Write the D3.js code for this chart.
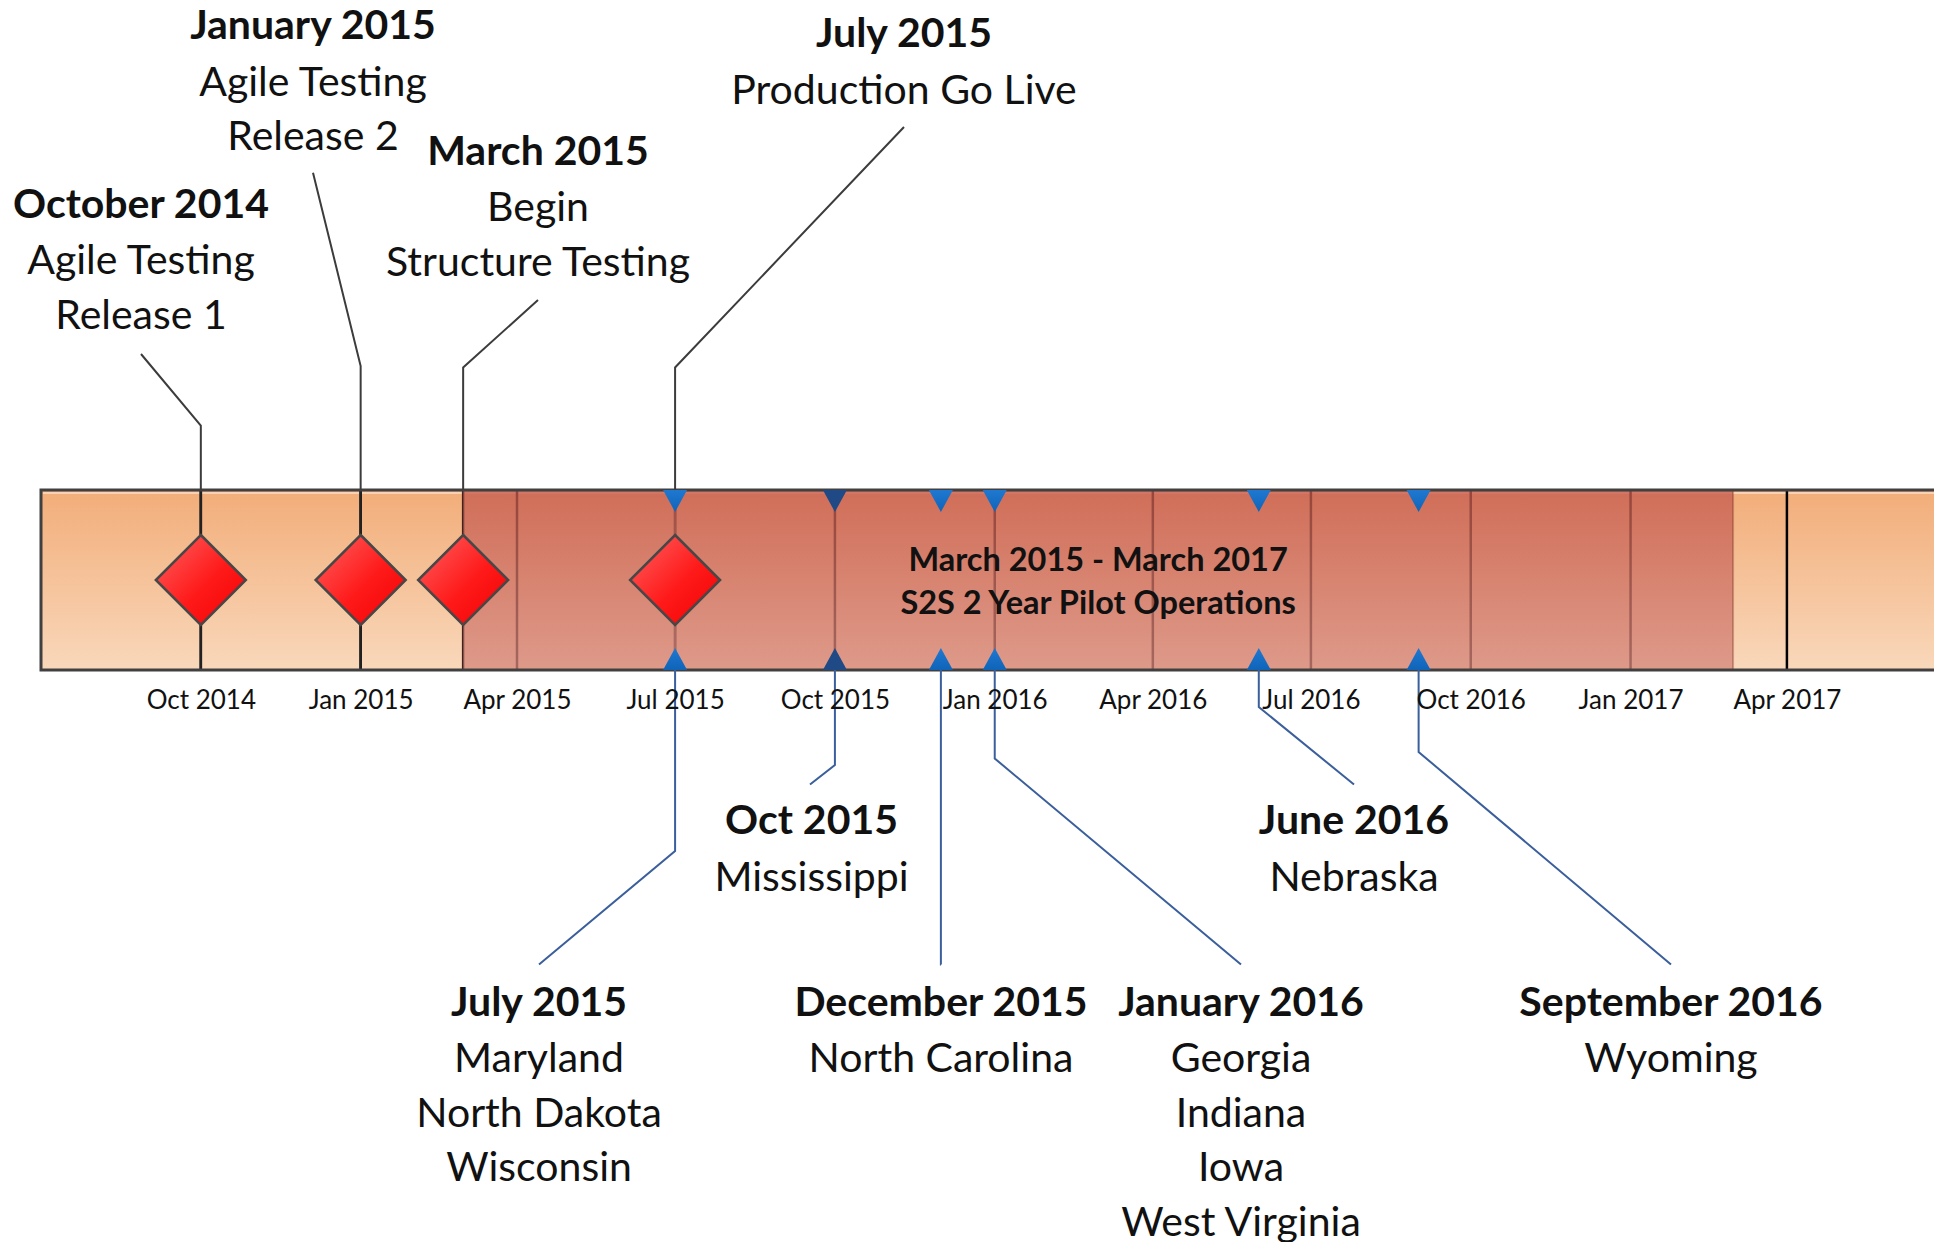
<!DOCTYPE html>
<html>
<head>
<meta charset="utf-8">
<script src="https://cdn.jsdelivr.net/npm/d3@7/dist/d3.min.js"></script>
<style>
  html, body { margin: 0; padding: 0; background: #ffffff; }
  svg { display: block; }
  text { font-family: Lato, "Open Sans", sans-serif; fill: #111; }
</style>
</head>
<body>
<svg id="chart" width="1934" height="1242"></svg>
<script>
// ---------------- DATA ----------------
const barRange = ["2014-07-01", "2017-07-01"];
const tickDates = ["2014-10-01", "2015-01-01", "2015-04-01", "2015-07-01", "2015-10-01", "2016-01-01",
                   "2016-04-01", "2016-07-01", "2016-10-01", "2017-01-01", "2017-04-01"];
const pilotPeriod = ["2015-03-01", "2017-03-01"];
const pilotLabel = ["March 2015 - March 2017", "S2S 2 Year Pilot Operations"];

const milestoneDates = ["2014-10-01", "2015-01-01", "2015-03-01", "2015-07-01"];
const milestoneTitles = ["October 2014", "January 2015", "March 2015", "July 2015"];
const milestoneLines = [["Agile Testing", "Release 1"], ["Agile Testing", "Release 2"],
                        ["Begin", "Structure Testing"], ["Production Go Live"]];

const stateDates = ["2015-07-01", "2015-10-01", "2015-12-01", "2016-01-01", "2016-06-01", "2016-09-01"];
const stateTitles = ["July 2015", "Oct 2015", "December 2015", "January 2016", "June 2016", "September 2016"];
const stateLines = [["Maryland", "North Dakota", "Wisconsin"], ["Mississippi"], ["North Carolina"],
                    ["Georgia", "Indiana", "Iowa", "West Virginia"], ["Nebraska"], ["Wyoming"]];

// ---------------- LAYOUT (pixels) ----------------
const milestoneLayout = [
  { cx: 141, titleY: 203.5, leadX: 141, leadY: 354, elbowY: 425.5 },
  { cx: 313, titleY: 24.7, leadX: 313, leadY: 172.7, elbowY: 366 },
  { cx: 538, titleY: 150.5, leadX: 538, leadY: 300, elbowY: 367.5 },
  { cx: 904, titleY: 33, leadX: 904, leadY: 127, elbowY: 367.5 }
];
const stateLayout = [
  { cx: 539, titleY: 1001.5, elbowY: 851, endX: 539, endY: 964.5, dark: false },
  { cx: 811.5, titleY: 820, elbowY: 765, endX: 810, endY: 784.5, dark: true },
  { cx: 941, titleY: 1001.5, elbowY: 964.5, endX: 941, endY: 964.5, dark: false },
  { cx: 1241, titleY: 1001.5, elbowY: 758.5, endX: 1241, endY: 964.5, dark: false },
  { cx: 1354, titleY: 820, elbowY: 707, endX: 1354, endY: 784.5, dark: false },
  { cx: 1671, titleY: 1001.5, elbowY: 752, endX: 1671, endY: 964.5, dark: false }
];
const barTop = 490, barBottom = 670, barMid = 580;
const annFont = 41, tickFont = 26, barFont = 32.5;
const firstGap = 56.5, lineGap = 54.5;

// ---------------- DRAW ----------------
const parse = d3.timeParse("%Y-%m-%d");
const svg = d3.select("#chart");
const x = d3.scaleTime().domain(barRange.map(parse)).range([41, 1945]);

const defs = svg.append("defs");
const g1 = defs.append("linearGradient").attr("id", "barGrad").attr("x1", 0).attr("y1", 0).attr("x2", 0).attr("y2", 1);
g1.append("stop").attr("offset", "0%").attr("stop-color", "#f2ad79");
g1.append("stop").attr("offset", "100%").attr("stop-color", "#f9d8bb");
const g2 = defs.append("linearGradient").attr("id", "pilotGrad").attr("x1", 0).attr("y1", 0).attr("x2", 0).attr("y2", 1);
g2.append("stop").attr("offset", "0%").attr("stop-color", "#c65b4e");
g2.append("stop").attr("offset", "100%").attr("stop-color", "#d6877b");
const g3 = defs.append("linearGradient").attr("id", "diaGrad").attr("x1", 0).attr("y1", 0).attr("x2", 1).attr("y2", 1);
g3.append("stop").attr("offset", "0%").attr("stop-color", "#ff6262");
g3.append("stop").attr("offset", "55%").attr("stop-color", "#ff1a1a");
g3.append("stop").attr("offset", "100%").attr("stop-color", "#f00000");
const g4 = defs.append("linearGradient").attr("id", "triGrad").attr("x1", 0).attr("y1", 0).attr("x2", 0).attr("y2", 1);
g4.append("stop").attr("offset", "0%").attr("stop-color", "#1f78d0");
g4.append("stop").attr("offset", "100%").attr("stop-color", "#0f64b8");

// bar background
const x0 = x(parse(barRange[0])), x1 = x(parse(barRange[1]));
svg.append("rect").attr("x", x0).attr("y", barTop).attr("width", x1 - x0).attr("height", barBottom - barTop)
  .attr("fill", "url(#barGrad)");
svg.append("line").attr("x1", x0 + 2).attr("x2", x1).attr("y1", barTop + 3).attr("y2", barTop + 3)
  .attr("stroke", "#ffffff").attr("stroke-opacity", 0.6).attr("stroke-width", 1.5);

// quarterly tick lines across bar
svg.append("g").selectAll("line").data(tickDates).join("line")
  .attr("x1", d => x(parse(d))).attr("x2", d => x(parse(d)))
  .attr("y1", barTop).attr("y2", barBottom)
  .attr("stroke", "#000").attr("stroke-width", 2.5);

// milestone stems inside bar
svg.append("g").selectAll("line").data(milestoneDates).join("line")
  .attr("x1", d => x(parse(d))).attr("x2", d => x(parse(d)))
  .attr("y1", barTop).attr("y2", barBottom)
  .attr("stroke", "#222").attr("stroke-width", 2.5);

// pilot overlay
const p0 = x(parse(pilotPeriod[0])), p1 = x(parse(pilotPeriod[1]));
svg.append("rect").attr("x", p0).attr("y", barTop).attr("width", p1 - p0).attr("height", barBottom - barTop)
  .attr("fill", "url(#pilotGrad)").attr("fill-opacity", 0.77)
  .attr("stroke", "#7a2e22").attr("stroke-opacity", 0.35).attr("stroke-width", 2);

// bar border
svg.append("rect").attr("x", x0).attr("y", barTop).attr("width", x1 - x0).attr("height", barBottom - barTop)
  .attr("fill", "none").attr("stroke", "#404040").attr("stroke-width", 3);

// top leaders
svg.append("g").selectAll("polyline").data(milestoneDates).join("polyline")
  .attr("points", (d, i) => {
    const L = milestoneLayout[i], xx = x(parse(d));
    return [[L.leadX, L.leadY], [xx, L.elbowY], [xx, barTop]].map(p => p.join(",")).join(" ");
  })
  .attr("fill", "none").attr("stroke", "#3c3c3c").attr("stroke-width", 2);

// bottom leaders
svg.append("g").selectAll("polyline").data(stateDates).join("polyline")
  .attr("points", (d, i) => {
    const L = stateLayout[i], xx = x(parse(d));
    return [[xx, barBottom], [xx, L.elbowY], [L.endX, L.endY]].map(p => p.join(",")).join(" ");
  })
  .attr("fill", "none").attr("stroke", "#3a5f9c").attr("stroke-width", 2);

// diamonds
const dh = 45;
svg.append("g").selectAll("path").data(milestoneDates).join("path")
  .attr("d", d => {
    const cx = x(parse(d));
    return `M${cx},${barMid - dh} L${cx + dh},${barMid} L${cx},${barMid + dh} L${cx - dh},${barMid} Z`;
  })
  .attr("fill", "url(#diaGrad)").attr("stroke", "#474747").attr("stroke-width", 2.5).attr("stroke-linejoin", "miter");

// triangles
const tw = 12, th = 22;
const tri = svg.append("g");
tri.selectAll("path.top").data(stateDates).join("path").attr("class", "top")
  .attr("d", d => { const cx = x(parse(d)); return `M${cx - tw},${barTop} L${cx + tw},${barTop} L${cx},${barTop + th} Z`; })
  .attr("fill", (d, i) => stateLayout[i].dark ? "#1f4a86" : "url(#triGrad)");
tri.selectAll("path.bot").data(stateDates).join("path").attr("class", "bot")
  .attr("d", d => { const cx = x(parse(d)); return `M${cx - tw},${barBottom} L${cx + tw},${barBottom} L${cx},${barBottom - th} Z`; })
  .attr("fill", (d, i) => stateLayout[i].dark ? "#1f4a86" : "url(#triGrad)");

// axis labels
const axis = d3.axisBottom(x).tickValues(tickDates.map(parse)).tickFormat(d3.timeFormat("%b %Y"))
  .tickSize(0).tickPadding(20.5);
const ag = svg.append("g").attr("transform", `translate(0,${barBottom})`).call(axis);
ag.select(".domain").remove();
ag.selectAll("text").attr("font-family", "Lato").attr("font-size", tickFont).attr("fill", "#111");

// pilot label
const pc = (p0 + p1) / 2;
svg.append("g").selectAll("text").data(pilotLabel).join("text")
  .attr("x", pc).attr("y", (d, i) => 559.5 + i * 43).attr("dy", "0.35em")
  .attr("text-anchor", "middle").attr("font-weight", "bold").attr("font-size", barFont).text(d => d);

// annotation blocks
function block(cx, titleY, title, lines) {
  const g = svg.append("g");
  g.append("text").attr("x", cx).attr("y", titleY).attr("dy", "0.35em").attr("text-anchor", "middle")
    .attr("font-weight", "bold").attr("font-size", annFont).text(title);
  lines.forEach((t, j) => {
    g.append("text").attr("x", cx).attr("y", titleY + firstGap + j * lineGap).attr("dy", "0.35em")
      .attr("text-anchor", "middle").attr("font-size", annFont).text(t);
  });
}
milestoneTitles.forEach((t, i) => block(milestoneLayout[i].cx, milestoneLayout[i].titleY, t, milestoneLines[i]));
stateTitles.forEach((t, i) => block(stateLayout[i].cx, stateLayout[i].titleY, t, stateLines[i]));
</script>
</body>
</html>
